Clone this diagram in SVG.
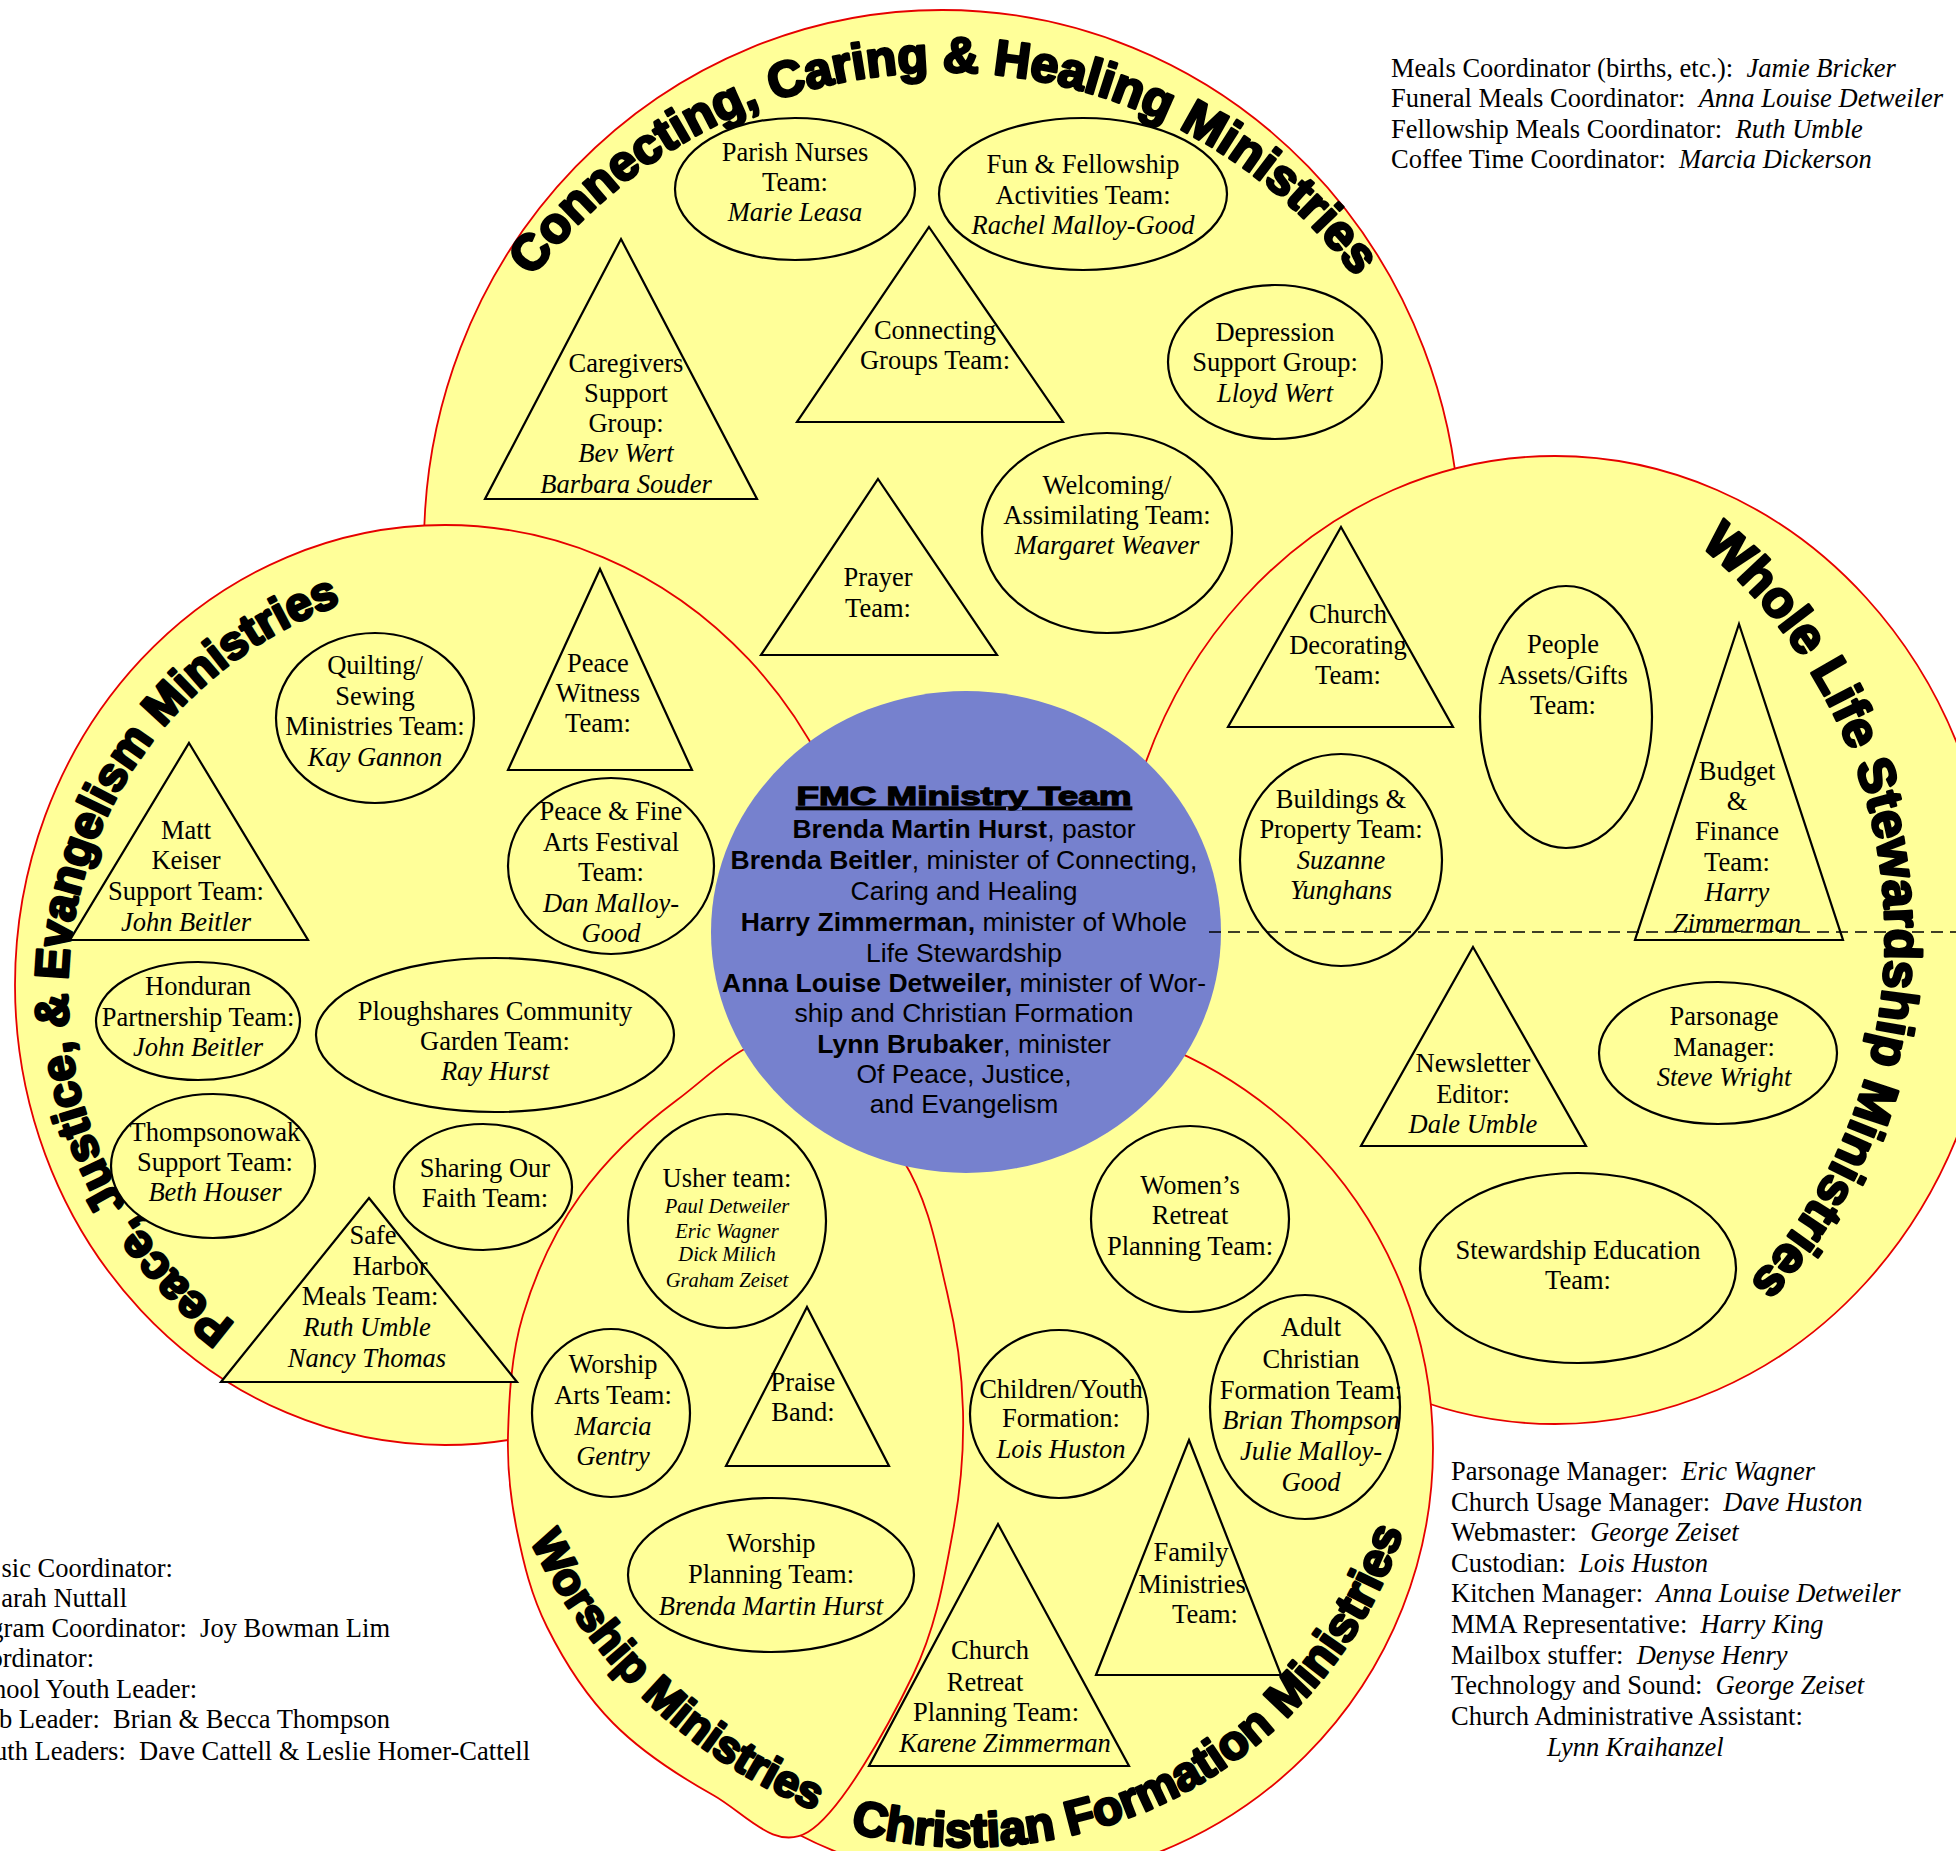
<svg xmlns="http://www.w3.org/2000/svg" width="1956" height="1851" viewBox="0 0 1956 1851">
<defs>
<style>
.zone{fill:#FFFF99;stroke:#E60000;stroke-width:1.8}
.hub{fill:#7681CE}
.n{fill:#FFFF99;stroke:#000;stroke-width:2.2}
.t{font-family:"Liberation Serif","Times New Roman",serif;font-size:26.5px;fill:#000;text-anchor:middle}
.i{font-style:italic}
.sm{font-size:20.5px}
.ttl{font-family:"Liberation Sans",Arial,sans-serif;font-weight:bold;fill:#000;stroke:#000;stroke-width:2.8;stroke-linejoin:round}
.h{font-family:"Liberation Sans",Arial,sans-serif;font-size:26.5px;fill:#000;text-anchor:middle}
.b{font-weight:bold}
.side{font-family:"Liberation Serif","Times New Roman",serif;font-size:26.5px;fill:#000}
.dash{stroke:#000;stroke-width:1.6;stroke-dasharray:12 7;fill:none}
</style>
<path id="arcC" d="M 460 411 A 515 515 0 0 1 1428 411"/>
<path id="arcP" d="M 407.5 1397.7 A 412 412 0 0 1 527.1 582.8"/>
<path id="arcW" d="M 1395.7 430.3 A 507 507 0 0 1 1463.4 1436.8"/>
<path id="arcWo" d="M 492.1 1177.3 A 547 547 0 0 0 1179.4 1829.5"/>
<path id="arcF" d="M 609.6 1674.1 A 458 458 0 0 0 1402.3 1243.7"/>
</defs>

<g id="zone-connecting">
<ellipse class="zone" cx="942" cy="545" rx="518" ry="535"/>
</g>
<g id="zone-peace">
<ellipse class="zone" cx="445" cy="985" rx="430" ry="460"/>
</g>
<g id="zone-wholelife">
<ellipse class="zone" cx="1555" cy="940" rx="440" ry="484"/>
</g>
<g id="zone-formation">
<circle class="zone" cx="998" cy="1448" r="435"/>
</g>
<g id="zone-worship">
<path class="zone" d="M 790 1040 C 827.7 1050 876.8 1118 903 1160 C 929.2 1202 937 1250.2 947 1292 C 957 1333.8 962 1371.2 963 1411 C 964 1450.8 961.3 1487 953 1531 C 944.7 1575 937.2 1624.8 913 1675 C 888.8 1725.2 841.3 1812 808 1832 C 774.7 1852 745.5 1813.2 713 1795 C 680.5 1776.8 640.7 1751 613 1723 C 585.3 1695 563 1659 547 1627 C 531 1595 523.5 1563 517 1531 C 510.5 1499 507 1471 508 1435 C 509 1399 511 1354.8 523 1315 C 535 1275.2 554.3 1231.8 580 1196 C 605.7 1160.2 642 1126 677 1100 C 712 1074 752.3 1030 790 1040 Z"/>
</g>

<g id="titles">
<text class="ttl" font-size="50"><textPath href="#arcC" startOffset="50%" text-anchor="middle">Connecting, Caring &amp; Healing Ministries</textPath></text>
<text class="ttl" font-size="47"><textPath href="#arcP" startOffset="50%" text-anchor="middle">Peace, Justice, &amp; Evangelism Ministries</textPath></text>
<text class="ttl" font-size="51"><textPath href="#arcW" startOffset="50%" text-anchor="middle">Whole Life Stewardship Ministries</textPath></text>
<text class="ttl" font-size="45"><textPath href="#arcWo" startOffset="50%" text-anchor="middle">Worship Ministries</textPath></text>
<text class="ttl" font-size="48"><textPath href="#arcF" startOffset="50%" text-anchor="middle">Christian Formation Ministries</textPath></text>
</g>

<g id="hub">
<ellipse class="hub" cx="966" cy="932" rx="255" ry="241"/>
<text class="h b" x="964" y="805" font-size="29" stroke="#000" stroke-width="1.3" text-decoration="underline" textLength="335" lengthAdjust="spacingAndGlyphs">FMC Ministry Team</text>
<text class="h" x="964" y="838"><tspan class="b">Brenda Martin Hurst</tspan>, pastor</text>
<text class="h" x="964" y="869"><tspan class="b">Brenda Beitler</tspan>, minister of Connecting,</text>
<text class="h" x="964" y="900">Caring and Healing</text>
<text class="h" x="964" y="931"><tspan class="b">Harry Zimmerman,</tspan> minister of Whole</text>
<text class="h" x="964" y="962">Life Stewardship</text>
<text class="h" x="964" y="992"><tspan class="b">Anna Louise Detweiler,</tspan> minister of Wor-</text>
<text class="h" x="964" y="1022">ship and Christian Formation</text>
<text class="h" x="964" y="1053"><tspan class="b">Lynn Brubaker</tspan>, minister</text>
<text class="h" x="964" y="1083">Of Peace, Justice,</text>
<text class="h" x="964" y="1113">and Evangelism</text>
</g>

<g id="n-parish"><ellipse class="n" cx="795" cy="189" rx="120" ry="71"/>
<text class="t"><tspan x="795" y="161">Parish Nurses</tspan><tspan x="795" y="191">Team:</tspan><tspan class="i" x="795" y="221">Marie Leasa</tspan></text></g>
<g id="n-fun"><ellipse class="n" cx="1083" cy="194" rx="144" ry="76"/>
<text class="t"><tspan x="1083" y="173">Fun &amp; Fellowship</tspan><tspan x="1083" y="204">Activities Team:</tspan><tspan class="i" x="1083" y="234">Rachel Malloy-Good</tspan></text></g>
<g id="n-caregivers"><polygon class="n" points="621,239 757,499 485,499"/>
<text class="t"><tspan x="626" y="372">Caregivers</tspan><tspan x="626" y="402">Support</tspan><tspan x="626" y="432">Group:</tspan><tspan class="i" x="626" y="462">Bev Wert</tspan><tspan class="i" x="626" y="493">Barbara Souder</tspan></text></g>
<g id="n-connecting-groups"><polygon class="n" points="929,227 1063,422 797,422"/>
<text class="t"><tspan x="935" y="339">Connecting</tspan><tspan x="935" y="369">Groups Team:</tspan></text></g>
<g id="n-depression"><ellipse class="n" cx="1275" cy="362" rx="107" ry="77"/>
<text class="t"><tspan x="1275" y="341">Depression</tspan><tspan x="1275" y="371">Support Group:</tspan><tspan class="i" x="1275" y="402">Lloyd Wert</tspan></text></g>
<g id="n-welcoming"><ellipse class="n" cx="1107" cy="533" rx="125" ry="100"/>
<text class="t"><tspan x="1107" y="494">Welcoming/</tspan><tspan x="1107" y="524">Assimilating Team:</tspan><tspan class="i" x="1107" y="554">Margaret Weaver</tspan></text></g>
<g id="n-prayer"><polygon class="n" points="878,479 997,655 761,655"/>
<text class="t"><tspan x="878" y="586">Prayer</tspan><tspan x="878" y="617">Team:</tspan></text></g>

<g id="n-quilting"><ellipse class="n" cx="375" cy="718" rx="99" ry="85"/>
<text class="t"><tspan x="375" y="674">Quilting/</tspan><tspan x="375" y="705">Sewing</tspan><tspan x="375" y="735">Ministries Team:</tspan><tspan class="i" x="375" y="766">Kay Gannon</tspan></text></g>
<g id="n-peace-witness"><polygon class="n" points="600,569 692,770 508,770"/>
<text class="t"><tspan x="598" y="672">Peace</tspan><tspan x="598" y="702">Witness</tspan><tspan x="598" y="732">Team:</tspan></text></g>
<g id="n-matt-keiser"><polygon class="n" points="189,743 308,940 70,940"/>
<text class="t"><tspan x="186" y="839">Matt</tspan><tspan x="186" y="869">Keiser</tspan><tspan x="186" y="900">Support Team:</tspan><tspan class="i" x="186" y="931">John Beitler</tspan></text></g>
<g id="n-peace-fine-arts"><ellipse class="n" cx="611" cy="866" rx="103" ry="88"/>
<text class="t"><tspan x="611" y="820">Peace &amp; Fine</tspan><tspan x="611" y="851">Arts Festival</tspan><tspan x="611" y="881">Team:</tspan><tspan class="i" x="611" y="912">Dan Malloy-</tspan><tspan class="i" x="611" y="942">Good</tspan></text></g>
<g id="n-honduran"><ellipse class="n" cx="198" cy="1021" rx="102" ry="59"/>
<text class="t"><tspan x="198" y="995">Honduran</tspan><tspan x="198" y="1026">Partnership Team:</tspan><tspan class="i" x="198" y="1056">John Beitler</tspan></text></g>
<g id="n-ploughshares"><ellipse class="n" cx="495" cy="1035" rx="179" ry="77"/>
<text class="t"><tspan x="495" y="1020">Ploughshares Community</tspan><tspan x="495" y="1050">Garden Team:</tspan><tspan class="i" x="495" y="1080">Ray Hurst</tspan></text></g>
<g id="n-thompsonowak"><ellipse class="n" cx="213" cy="1166" rx="102" ry="72"/>
<text class="t"><tspan x="215" y="1141">Thompsonowak</tspan><tspan x="215" y="1171">Support Team:</tspan><tspan class="i" x="215" y="1201">Beth Houser</tspan></text></g>
<g id="n-sharing"><ellipse class="n" cx="483" cy="1187" rx="89" ry="63"/>
<text class="t"><tspan x="485" y="1177">Sharing Our</tspan><tspan x="485" y="1207">Faith Team:</tspan></text></g>
<g id="n-safe-harbor"><polygon class="n" points="369,1198 517,1382 221,1382"/>
<text class="t"><tspan x="373" y="1244">Safe</tspan><tspan x="390" y="1275">Harbor</tspan><tspan x="370" y="1305">Meals Team:</tspan><tspan class="i" x="367" y="1336">Ruth Umble</tspan><tspan class="i" x="367" y="1367">Nancy Thomas</tspan></text></g>

<g id="n-church-decorating"><polygon class="n" points="1341,527 1453,727 1228,727"/>
<text class="t"><tspan x="1348" y="623">Church</tspan><tspan x="1348" y="654">Decorating</tspan><tspan x="1348" y="684">Team:</tspan></text></g>
<g id="n-people"><ellipse class="n" cx="1566" cy="717" rx="86" ry="131"/>
<text class="t"><tspan x="1563" y="653">People</tspan><tspan x="1563" y="684">Assets/Gifts</tspan><tspan x="1563" y="714">Team:</tspan></text></g>
<g id="n-budget"><polygon class="n" points="1739,624 1843,940 1635,940"/>
<text class="t"><tspan x="1737" y="780">Budget</tspan><tspan x="1737" y="810">&amp;</tspan><tspan x="1737" y="840">Finance</tspan><tspan x="1737" y="871">Team:</tspan><tspan class="i" x="1737" y="901">Harry</tspan><tspan class="i" x="1737" y="932">Zimmerman</tspan></text></g>
<g id="n-buildings"><ellipse class="n" cx="1341" cy="860" rx="101" ry="106"/>
<text class="t"><tspan x="1341" y="808">Buildings &amp;</tspan><tspan x="1341" y="838">Property Team:</tspan><tspan class="i" x="1341" y="869">Suzanne</tspan><tspan class="i" x="1341" y="899">Yunghans</tspan></text></g>
<g id="n-newsletter"><polygon class="n" points="1473,947 1586,1146 1361,1146"/>
<text class="t"><tspan x="1473" y="1072">Newsletter</tspan><tspan x="1473" y="1103">Editor:</tspan><tspan class="i" x="1473" y="1133">Dale Umble</tspan></text></g>
<g id="n-parsonage"><ellipse class="n" cx="1718" cy="1053" rx="119" ry="71"/>
<text class="t"><tspan x="1724" y="1025">Parsonage</tspan><tspan x="1724" y="1056">Manager:</tspan><tspan class="i" x="1724" y="1086">Steve Wright</tspan></text></g>
<g id="n-stewardship-education"><ellipse class="n" cx="1578" cy="1268" rx="158" ry="95"/>
<text class="t"><tspan x="1578" y="1259">Stewardship Education</tspan><tspan x="1578" y="1289">Team:</tspan></text></g>

<g id="n-usher"><ellipse class="n" cx="727" cy="1221" rx="99" ry="107"/>
<text class="t"><tspan x="727" y="1187">Usher team:</tspan><tspan class="i sm" x="727" y="1213">Paul Detweiler</tspan><tspan class="i sm" x="727" y="1238">Eric Wagner</tspan><tspan class="i sm" x="727" y="1261">Dick Milich</tspan><tspan class="i sm" x="727" y="1287">Graham Zeiset</tspan></text></g>
<g id="n-worship-arts"><ellipse class="n" cx="611" cy="1413" rx="79" ry="84"/>
<text class="t"><tspan x="613" y="1373">Worship</tspan><tspan x="613" y="1404">Arts Team:</tspan><tspan class="i" x="613" y="1435">Marcia</tspan><tspan class="i" x="613" y="1465">Gentry</tspan></text></g>
<g id="n-praise"><polygon class="n" points="807,1307 889,1466 726,1466"/>
<text class="t"><tspan x="803" y="1391">Praise</tspan><tspan x="803" y="1421">Band:</tspan></text></g>
<g id="n-worship-planning"><ellipse class="n" cx="771" cy="1575" rx="143" ry="77"/>
<text class="t"><tspan x="771" y="1552">Worship</tspan><tspan x="771" y="1583">Planning Team:</tspan><tspan class="i" x="771" y="1615">Brenda Martin Hurst</tspan></text></g>

<g id="n-womens-retreat"><ellipse class="n" cx="1190" cy="1219" rx="99" ry="93"/>
<text class="t"><tspan x="1190" y="1194">Women’s</tspan><tspan x="1190" y="1224">Retreat</tspan><tspan x="1190" y="1255">Planning Team:</tspan></text></g>
<g id="n-adult-formation"><ellipse class="n" cx="1305" cy="1407" rx="95" ry="112"/>
<text class="t"><tspan x="1311" y="1336">Adult</tspan><tspan x="1311" y="1368">Christian</tspan><tspan x="1311" y="1399">Formation Team:</tspan><tspan class="i" x="1311" y="1429">Brian Thompson</tspan><tspan class="i" x="1311" y="1460">Julie Malloy-</tspan><tspan class="i" x="1311" y="1491">Good</tspan></text></g>
<g id="n-children-youth"><ellipse class="n" cx="1059" cy="1414" rx="89" ry="84"/>
<text class="t"><tspan x="1061" y="1398">Children/Youth</tspan><tspan x="1061" y="1427">Formation:</tspan><tspan class="i" x="1061" y="1458">Lois Huston</tspan></text></g>
<g id="n-family"><polygon class="n" points="1189,1440 1281,1675 1096,1675"/>
<text class="t"><tspan x="1191" y="1561">Family</tspan><tspan x="1192" y="1593">Ministries</tspan><tspan x="1205" y="1623">Team:</tspan></text></g>
<g id="n-church-retreat"><polygon class="n" points="998,1524 1129,1766 869,1766"/>
<text class="t"><tspan x="990" y="1659">Church</tspan><tspan x="985" y="1691">Retreat</tspan><tspan x="996" y="1721">Planning Team:</tspan><tspan class="i" x="1005" y="1752">Karene Zimmerman</tspan></text></g>

<g id="connectors">
<line class="dash" x1="1209" y1="932" x2="1956" y2="932"/>
</g>

<g id="notes-top-right">
<text class="side" x="1391" y="77" xml:space="preserve">Meals Coordinator (births, etc.):  <tspan class="i">Jamie Bricker</tspan></text>
<text class="side" x="1391" y="107" xml:space="preserve">Funeral Meals Coordinator:  <tspan class="i">Anna Louise Detweiler</tspan></text>
<text class="side" x="1391" y="138" xml:space="preserve">Fellowship Meals Coordinator:  <tspan class="i">Ruth Umble</tspan></text>
<text class="side" x="1391" y="168" xml:space="preserve">Coffee Time Coordinator:  <tspan class="i">Marcia Dickerson</tspan></text>
</g>

<g id="notes-bottom-right">
<text class="side" x="1451" y="1480" xml:space="preserve">Parsonage Manager:  <tspan class="i">Eric Wagner</tspan></text>
<text class="side" x="1451" y="1511" xml:space="preserve">Church Usage Manager:  <tspan class="i">Dave Huston</tspan></text>
<text class="side" x="1451" y="1541" xml:space="preserve">Webmaster:  <tspan class="i">George Zeiset</tspan></text>
<text class="side" x="1451" y="1572" xml:space="preserve">Custodian:  <tspan class="i">Lois Huston</tspan></text>
<text class="side" x="1451" y="1602" xml:space="preserve">Kitchen Manager:  <tspan class="i">Anna Louise Detweiler</tspan></text>
<text class="side" x="1451" y="1633" xml:space="preserve">MMA Representative:  <tspan class="i">Harry King</tspan></text>
<text class="side" x="1451" y="1664" xml:space="preserve">Mailbox stuffer:  <tspan class="i">Denyse Henry</tspan></text>
<text class="side" x="1451" y="1694" xml:space="preserve">Technology and Sound:  <tspan class="i">George Zeiset</tspan></text>
<text class="side" x="1451" y="1725">Church Administrative Assistant:</text>
<text class="side i" x="1547" y="1756">Lynn Kraihanzel</text>
</g>

<g id="notes-bottom-left">
<text class="side" x="173" y="1577" text-anchor="end">sic Coordinator:</text>
<text class="side" x="127" y="1607" text-anchor="end">arah Nuttall</text>
<text class="side" x="390" y="1637" text-anchor="end" xml:space="preserve">gram Coordinator:  Joy Bowman Lim</text>
<text class="side" x="94" y="1667" text-anchor="end">ordinator:</text>
<text class="side" x="197" y="1698" text-anchor="end">hool Youth Leader:</text>
<text class="side" x="390" y="1728" text-anchor="end" xml:space="preserve">b Leader:  Brian &amp; Becca Thompson</text>
<text class="side" x="530" y="1760" text-anchor="end" xml:space="preserve">uth Leaders:  Dave Cattell &amp; Leslie Homer-Cattell</text>
</g>
</svg>
